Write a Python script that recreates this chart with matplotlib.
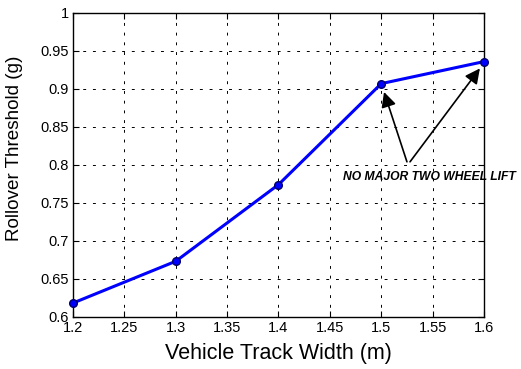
import matplotlib
matplotlib.use("Agg")
import matplotlib.pyplot as plt

plt.rcParams['font.family'] = ['Liberation Sans', 'DejaVu Sans']

# track width (m) vs. rollover threshold (g)
track_width = [1.2, 1.3, 1.4, 1.5, 1.6]
threshold = [0.618, 0.673, 0.774, 0.907, 0.936]
xticks = [1.2, 1.25, 1.3, 1.35, 1.4, 1.45, 1.5, 1.55, 1.6]
yticks = [0.6, 0.65, 0.7, 0.75, 0.8, 0.85, 0.9, 0.95, 1]

fig = plt.figure(figsize=(5.21, 3.69), dpi=100)
ax = fig.add_axes([73/521, 1-316.7/369, 411/521, 303.7/369])

ax.plot(track_width, threshold, color='#0000ff', lw=2.2, marker='o',
        markersize=5.5, markerfacecolor='#0000ff', markeredgecolor='#000066',
        markeredgewidth=1.0, zorder=3, clip_on=False)

ax.set_xlim(1.2, 1.6)
ax.set_ylim(0.6, 1.0)
ax.set_xticks(xticks)
ax.set_xticklabels(['%g' % v for v in xticks])
ax.set_yticks(yticks)
ax.set_yticklabels(['%g' % v for v in yticks])
ax.tick_params(direction='in', length=4, width=0.8, labelsize=10.5,
               top=True, right=True, pad=3)
ax.grid(True, color='black', linestyle=(0, (3, 7)), linewidth=0.7)
for s in ax.spines.values():
    s.set_linewidth(1.0)

ax.set_xlabel('Vehicle Track Width (m)', fontsize=15.5)
ax.xaxis.set_label_coords(0.5, -0.085)
ax.set_ylabel('Rollover Threshold (g)', fontsize=13.6)
ax.yaxis.set_label_coords(-0.122, 0.553)

# arrows from the note up to the last two points
tails = [(1.525, 0.804), (1.528, 0.804)]
heads = [(1.5027, 0.896), (1.596, 0.927)]
for (tx, ty), (hx, hy) in zip(tails, heads):
    ax.annotate('', xy=(hx, hy), xytext=(tx, ty), annotation_clip=False,
                arrowprops=dict(arrowstyle='-|>,head_length=0.6,head_width=0.3',
                                color='black', lw=1.2, mutation_scale=15,
                                shrinkA=0, shrinkB=0))
ax.text(1.547, 0.784, 'NO MAJOR TWO WHEEL LIFT', fontsize=8.7,
        fontweight='bold', fontstyle='italic', ha='center', va='center',
        clip_on=False)

fig.savefig('out.png', dpi=100)
